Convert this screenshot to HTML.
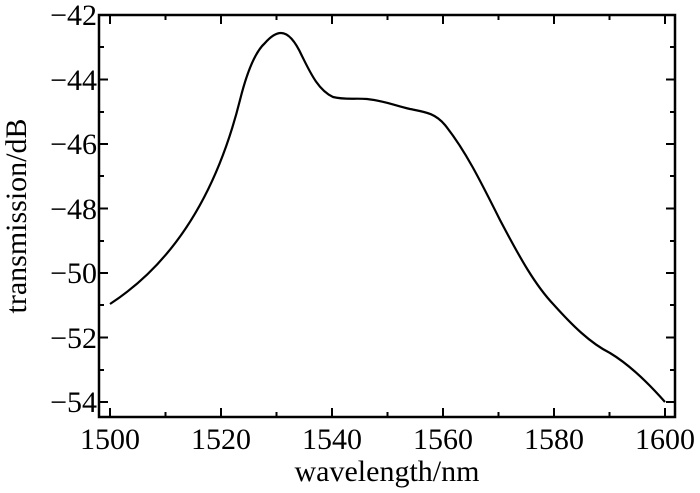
<!DOCTYPE html>
<html><head><style>body{margin:0;background:#fff}svg{display:block}text{font-family:"Liberation Serif",serif;fill:#000}</style></head><body>
<svg width="700" height="493" viewBox="0 0 700 493" xmlns="http://www.w3.org/2000/svg">
<rect x="99" y="15" width="576" height="402" fill="none" stroke="#000" stroke-width="2.5"/>
<g stroke="#000" stroke-width="2">
<path d="M110 417v-9M165.5 417v-5M221 417v-9M276.5 417v-5M332 417v-9M387.5 417v-5M443 417v-9M498.5 417v-5M554 417v-9M609.5 417v-5M665 417v-9"/>
<path d="M110 15v9M165.5 15v5M221 15v9M276.5 15v5M332 15v9M387.5 15v5M443 15v9M498.5 15v5M554 15v9M609.5 15v5M665 15v9"/>
<path d="M99 79.5h9M99 144h9M99 208.5h9M99 273h9M99 337.5h9M99 402h9M99 47h5M99 112h5M99 176h5M99 241h5M99 305h5M99 370h5"/>
<path d="M675 79.5h-9M675 144h-9M675 208.5h-9M675 273h-9M675 337.5h-9M675 402h-9M675 47h-5M675 112h-5M675 176h-5M675 241h-5M675 305h-5M675 370h-5"/>
</g>
<path fill="none" stroke="#000" stroke-width="2.2" d="M110 304 C170 265,215 200,240 100 C247 72,255 52,265 43 C272 35,277 33,281 33 C290 33,297 45,302 56 C310 72,318 90,333 97 C345 100,355 98,367 99 C385 101,393 105,410 109 C425 112,435 113,445 125 C465 150,480 180,500 220 C520 258,535 285,554 305 C572 325,590 343,610 353 C630 365,650 385,665 402"/>
<g font-size="30" text-anchor="end">
<text x="97" y="25">−42</text><text x="97" y="90">−44</text><text x="97" y="154">−46</text><text x="97" y="219">−48</text><text x="97" y="283">−50</text><text x="97" y="348">−52</text><text x="97" y="412">−54</text>
</g>
<g font-size="30" text-anchor="middle">
<text x="110" y="449">1500</text><text x="221" y="449">1520</text><text x="332" y="449">1540</text><text x="443" y="449">1560</text><text x="554" y="449">1580</text><text x="665" y="449">1600</text>
</g>
<text x="387" y="481" font-size="30" text-anchor="middle">wavelength/nm</text>
<text transform="translate(26,216) rotate(-90)" font-size="30" text-anchor="middle">transmission/dB</text>
</svg>
</body></html>
